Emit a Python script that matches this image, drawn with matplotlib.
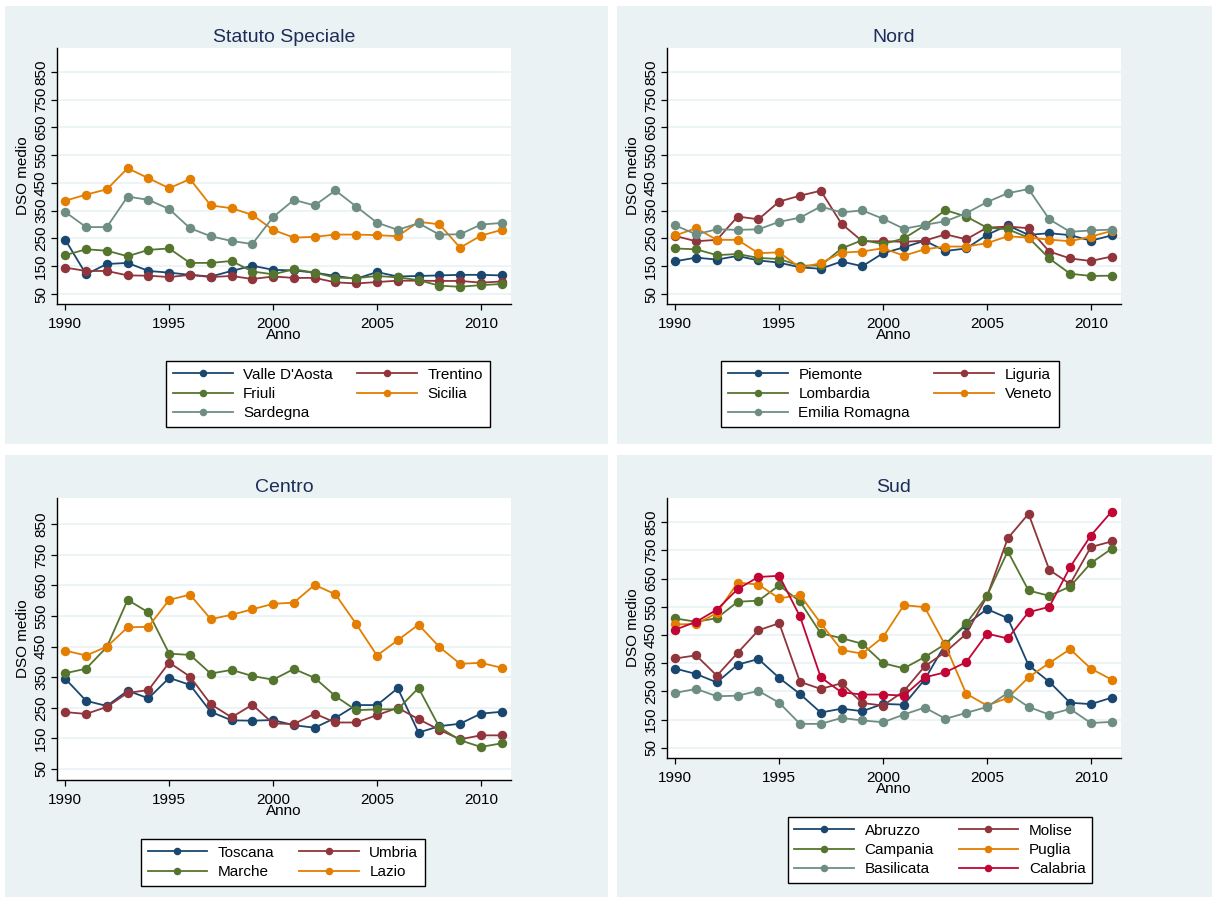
import matplotlib.pyplot as plt
from matplotlib.patches import Rectangle

plt.rcParams['font.family'] = ['Liberation Sans', 'DejaVu Sans']

W, H = 1212, 897

years = list(range(1990, 2012))
x_ticks = [1990, 1995, 2000, 2005, 2010]
y_ticks = [50, 150, 250, 350, 450, 550, 650, 750, 850]

# Statuto Speciale
valle_daosta = [245, 121, 158, 162, 133, 127, 119, 113, 133, 152, 137, 135, 127, 115, 105, 129, 113, 115, 117, 119, 119, 117]
trentino = [145, 133, 133, 117, 116, 111, 119, 111, 115, 104, 113, 108, 108, 92, 88, 93, 98, 98, 97, 97, 91, 95]
friuli = [190, 211, 206, 186, 209, 214, 162, 162, 169, 131, 121, 139, 127, 109, 107, 115, 110, 100, 80, 76, 82, 86]
sicilia = [386, 408, 427, 503, 467, 431, 464, 369, 359, 335, 281, 253, 256, 264, 264, 262, 258, 310, 301, 217, 260, 281]
sardegna = [345, 291, 291, 401, 389, 356, 287, 258, 241, 230, 327, 389, 369, 423, 365, 307, 281, 305, 264, 265, 300, 306]

# Nord
piemonte = [168, 181, 174, 187, 171, 163, 146, 141, 167, 150, 197, 218, 242, 205, 214, 263, 297, 263, 269, 262, 242, 261]
liguria = [259, 240, 245, 329, 319, 383, 404, 422, 303, 240, 240, 238, 242, 265, 247, 289, 293, 287, 203, 178, 169, 185]
lombardia = [214, 211, 190, 194, 180, 176, 152, 153, 214, 244, 230, 250, 297, 352, 329, 289, 283, 253, 178, 123, 115, 116]
veneto = [261, 287, 245, 245, 197, 200, 145, 161, 199, 203, 215, 188, 211, 221, 221, 233, 258, 253, 246, 240, 257, 277]
emilia_romagna = [297, 265, 283, 281, 283, 310, 325, 365, 344, 351, 321, 285, 299, 312, 341, 381, 413, 428, 319, 274, 279, 282]

# Centro
toscana = [345, 273, 256, 306, 281, 348, 325, 237, 209, 208, 210, 193, 185, 217, 259, 259, 314, 169, 190, 198, 231, 237]
umbria = [236, 230, 253, 299, 308, 398, 352, 262, 219, 260, 199, 197, 231, 202, 202, 226, 250, 213, 178, 147, 160, 160]
marche = [363, 378, 449, 603, 562, 427, 423, 362, 374, 354, 342, 377, 348, 288, 242, 245, 245, 315, 187, 144, 122, 134]
lazio = [437, 421, 450, 513, 515, 603, 620, 540, 554, 572, 590, 594, 652, 621, 524, 421, 471, 522, 449, 394, 397, 381]

# Sud
abruzzo = [331, 312, 282, 345, 365, 298, 241, 175, 189, 180, 206, 203, 292, 418, 487, 542, 510, 343, 284, 210, 205, 228]
molise = [367, 378, 306, 387, 467, 492, 284, 259, 279, 209, 200, 251, 339, 390, 454, 587, 793, 880, 681, 631, 762, 782]
campania = [509, 497, 510, 568, 572, 626, 569, 456, 439, 419, 350, 332, 372, 418, 491, 589, 747, 608, 589, 622, 705, 756]
puglia = [488, 489, 528, 636, 629, 580, 592, 492, 397, 384, 443, 556, 549, 413, 242, 200, 227, 300, 351, 400, 331, 292]
basilicata = [245, 259, 233, 235, 252, 210, 135, 135, 156, 147, 141, 168, 193, 153, 174, 195, 245, 195, 168, 188, 138, 142]
calabria = [469, 497, 540, 613, 656, 660, 516, 300, 247, 239, 239, 235, 300, 318, 354, 455, 438, 531, 550, 691, 803, 888]

# Stata s2color palette
NAVY = '#1A476F'
MAROON = '#90353B'
FOREST = '#55752F'
ORANGE = '#E37E00'
TEAL = '#6E8E84'
CRANBERRY = '#C10534'
BG = '#EAF2F3'
TITLE = '#1E2D58'

panels = [
    {
        'title': 'Statuto Speciale',
        'bg': (5, 6, 608, 444),
        'plot': (57, 48, 511, 304),
        'legend': (328, 353),
        'series': [("Valle D'Aosta", valle_daosta, NAVY), ('Trentino', trentino, MAROON),
                   ('Friuli', friuli, FOREST), ('Sicilia', sicilia, ORANGE),
                   ('Sardegna', sardegna, TEAL)],
    },
    {
        'title': 'Nord',
        'bg': (617, 6, 1212, 444),
        'plot': (667, 48, 1121, 304),
        'legend': (890, 353),
        'series': [('Piemonte', piemonte, NAVY), ('Liguria', liguria, MAROON),
                   ('Lombardia', lombardia, FOREST), ('Veneto', veneto, ORANGE),
                   ('Emilia Romagna', emilia_romagna, TEAL)],
    },
    {
        'title': 'Centro',
        'bg': (5, 455, 608, 897),
        'plot': (57, 498, 511, 780),
        'legend': (283, 831),
        'series': [('Toscana', toscana, NAVY), ('Umbria', umbria, MAROON),
                   ('Marche', marche, FOREST), ('Lazio', lazio, ORANGE)],
    },
    {
        'title': 'Sud',
        'bg': (617, 455, 1212, 897),
        'plot': (667, 498, 1121, 758),
        'legend': (940, 809),
        'series': [('Abruzzo', abruzzo, NAVY), ('Molise', molise, MAROON),
                   ('Campania', campania, FOREST), ('Puglia', puglia, ORANGE),
                   ('Basilicata', basilicata, TEAL), ('Calabria', calabria, CRANBERRY)],
    },
]


def fig_rect(x0, y0, x1, y1):
    return [x0 / W, 1 - y1 / H, (x1 - x0) / W, (y1 - y0) / H]


fig = plt.figure(figsize=(W / 100, H / 100), dpi=100)
fig.patch.set_facecolor('white')

for p in panels:
    l, b, w, h = fig_rect(*p['bg'])
    fig.patches.append(Rectangle((l, b), w, h, transform=fig.transFigure,
                                 facecolor=BG, edgecolor='none', zorder=-10))

    ax = fig.add_axes(fig_rect(*p['plot']))
    ax.set_facecolor('white')
    for name, vals, col in p['series']:
        ax.plot(years, vals, color=col, linewidth=1.3, marker='o',
                markersize=6.8, markeredgewidth=0, label=name, zorder=3)

    ax.set_xlim(1989.6, 2011.45)
    ax.set_ylim(14, 936)
    ax.set_xticks(x_ticks)
    ax.set_yticks(y_ticks)
    ax.set_yticklabels([str(t) for t in y_ticks], rotation=90, va='center')
    for t in y_ticks:
        ax.axhline(t, color=BG, linewidth=1.2, zorder=1)

    for side in ('top', 'right'):
        ax.spines[side].set_visible(False)
    for side in ('left', 'bottom'):
        ax.spines[side].set_linewidth(1.0)
        ax.spines[side].set_color('black')
    ax.tick_params(axis='both', direction='out', length=4, width=0.9,
                   labelsize=11, colors='black')
    ax.tick_params(axis='x', pad=5)
    ax.tick_params(axis='y', pad=2.5)

    ax.set_title(p['title'], fontsize=14, color=TITLE, pad=4.2)
    ax.set_xlabel('Anno', fontsize=11, labelpad=-1.5)
    ax.set_ylabel('DSO medio', fontsize=11, labelpad=3)

    # Stata fills the legend row by row
    handles, labels = ax.get_legend_handles_labels()
    n = len(handles)
    order = list(range(0, n, 2)) + list(range(1, n, 2))
    cx, top = p['legend']
    leg = ax.legend([handles[i] for i in order], [labels[i] for i in order],
                    ncol=2, loc='upper center',
                    bbox_to_anchor=(cx / W, 1 - top / H),
                    bbox_transform=fig.transFigure,
                    fontsize=11, handlelength=3.9, handletextpad=0.7,
                    columnspacing=1.6, labelspacing=0.35, borderpad=0.45,
                    fancybox=False, framealpha=1, markerscale=0.8)
    leg.get_frame().set_edgecolor('black')
    leg.get_frame().set_linewidth(1.0)

fig.savefig('out.png', dpi=100, facecolor='white')
